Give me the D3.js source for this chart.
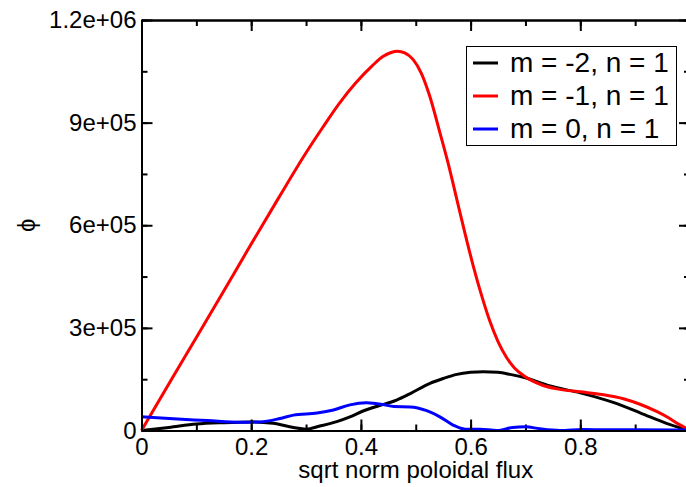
<!DOCTYPE html>
<html>
<head>
<meta charset="utf-8">
<script src="https://cdn.jsdelivr.net/npm/d3@7"></script>
<style>
  body { margin: 0; background: #fff; }
  svg { display: block; font-family: "Liberation Sans", Arial, sans-serif; }
</style>
</head>
<body>
<svg id="chart" width="686" height="487"></svg>
<script>
// Chart values
const SERIES_NAMES = ["m = -2, n = 1", "m = -1, n = 1", "m = 0, n = 1"];
const SERIES_COLORS = ["#000000", "#ff0000", "#0000ff"];

// m = -2 (black)
const BLACK_X = [0, 0.05, 0.1, 0.15, 0.2, 0.24, 0.277, 0.3, 0.325, 0.356, 0.38, 0.404, 0.43, 0.465, 0.49, 0.526, 0.55, 0.575, 0.6, 0.623, 0.65, 0.672, 0.7, 0.745, 0.8, 0.86, 0.91, 0.957, 1.0];
const BLACK_Y = [0, 9000, 19000, 23000, 25000, 21000, 9000, 4000, 13000, 26000, 40000, 57000, 71000, 89000, 108000, 138000, 152000, 164000, 170000, 172000, 170000, 164000, 154000, 130000, 110000, 82000, 51000, 21000, 0];

// m = -1 (red)
const RED_X = [0, 0.05, 0.1, 0.15, 0.2, 0.25, 0.3, 0.33, 0.36, 0.39, 0.42, 0.44, 0.455, 0.467, 0.48, 0.495, 0.51, 0.525, 0.545, 0.56, 0.575, 0.59, 0.605, 0.62, 0.635, 0.65, 0.665, 0.68, 0.697, 0.73, 0.76, 0.8, 0.84, 0.88, 0.91, 0.94, 0.96, 0.98, 1.0];
const RED_Y = [0, 137000, 272000, 408000, 545000, 680000, 812000, 885000, 955000, 1015000, 1065000, 1093000, 1105000, 1109000, 1104000, 1085000, 1045000, 980000, 865000, 775000, 675000, 575000, 480000, 395000, 320000, 260000, 215000, 183000, 160000, 133000, 121000, 113000, 105000, 92000, 76000, 55000, 38000, 18000, 0];

// m = 0 (blue)
const BLUE_X = [0, 0.058, 0.12, 0.18, 0.216, 0.2525, 0.277, 0.32, 0.35, 0.38, 0.41, 0.44, 0.46, 0.49, 0.52, 0.544, 0.568, 0.59, 0.617, 0.648, 0.677, 0.7, 0.726, 0.763, 0.805, 0.85, 0.9, 1.0];
const BLUE_Y = [40000, 34000, 29000, 24000, 25000, 35000, 45000, 51000, 60000, 75000, 81000, 76000, 70000, 69000, 58000, 40000, 16000, 4000, 4000, 0, 9000, 11000, 5000, 0, 3000, 2000, 2000, 1000];

const X_TICKS = [0, 0.2, 0.4, 0.6, 0.8, 1.0];
const X_TICK_LABELS = ["0", "0.2", "0.4", "0.6", "0.8", ""];
const Y_TICKS = [0, 300000, 600000, 900000, 1200000];
const Y_TICK_LABELS = ["0", "3e+05", "6e+05", "9e+05", "1.2e+06"];

const X_LABEL = "sqrt norm poloidal flux";
const Y_LABEL = "\u03d5";

// frame
const WIDTH = 686;
const HEIGHT = 487;
const PLOT = { left: 141.5, right: 690, top: 20, bottom: 430.5 };

const svg = d3.select("#chart");

const xScale = d3.scaleLinear().domain([0, 1]).range([PLOT.left, PLOT.right]);
const yScale = d3.scaleLinear().domain([0, 1200000]).range([PLOT.bottom, PLOT.top]);

const minorX = d3.range(0, 1.0001, 0.1).map(d => +d.toFixed(2));
const minorY = d3.range(0, 1200001, 150000);

function styleAxis (g) {
  g.selectAll("path.domain").attr("stroke", "#000").attr("stroke-width", 2);
  g.selectAll(".tick line").attr("stroke", "#000").attr("stroke-width", 2);
}

// minor ticks on all four sides
svg.append("g")
  .attr("transform", `translate(0,${PLOT.bottom})`)
  .call(d3.axisBottom(xScale).tickValues(minorX).tickSize(-6).tickSizeOuter(0).tickFormat(""))
  .call(styleAxis);
svg.append("g")
  .attr("transform", `translate(0,${PLOT.top})`)
  .call(d3.axisTop(xScale).tickValues(minorX).tickSize(-6).tickSizeOuter(0).tickFormat(""))
  .call(styleAxis);
svg.append("g")
  .attr("transform", `translate(${PLOT.left},0)`)
  .call(d3.axisLeft(yScale).tickValues(minorY).tickSize(-6).tickSizeOuter(0).tickFormat(""))
  .call(styleAxis);
svg.append("g")
  .attr("transform", `translate(${PLOT.right},0)`)
  .call(d3.axisRight(yScale).tickValues(minorY).tickSize(-6).tickSizeOuter(0).tickFormat(""))
  .call(styleAxis);

// major ticks
svg.append("g")
  .attr("transform", `translate(0,${PLOT.top})`)
  .call(d3.axisTop(xScale).tickValues(X_TICKS).tickSize(-11).tickSizeOuter(0).tickFormat(""))
  .call(styleAxis);
svg.append("g")
  .attr("transform", `translate(${PLOT.right},0)`)
  .call(d3.axisRight(yScale).tickValues(Y_TICKS).tickSize(-11).tickSizeOuter(0).tickFormat(""))
  .call(styleAxis);

// lines
const series = [
  { x: BLACK_X, y: BLACK_Y },
  { x: RED_X, y: RED_Y },
  { x: BLUE_X, y: BLUE_Y }
];

const lineGenerator = d3.line()
  .x(d => xScale(d[0]))
  .y(d => yScale(d[1]))
  .curve(d3.curveMonotoneX);

svg.append("g").selectAll("path")
  .data(series)
  .join("path")
  .attr("d", s => lineGenerator(s.x.map((v, i) => [v, s.y[i]])))
  .attr("fill", "none")
  .attr("stroke", (s, i) => SERIES_COLORS[i])
  .attr("stroke-width", 3)
  .attr("stroke-linejoin", "round");

// bottom and left axes with labels (on top of the lines)
const xAxis = svg.append("g")
  .attr("transform", `translate(0,${PLOT.bottom})`)
  .call(d3.axisBottom(xScale).tickValues(X_TICKS).tickSize(-11).tickSizeOuter(0).tickPadding(7)
    .tickFormat((d, i) => X_TICK_LABELS[i]))
  .call(styleAxis);
xAxis.selectAll("text").attr("font-size", 24).attr("fill", "#000").attr("font-family", null);

const yAxis = svg.append("g")
  .attr("transform", `translate(${PLOT.left},0)`)
  .call(d3.axisLeft(yScale).tickValues(Y_TICKS).tickSize(-11).tickSizeOuter(0).tickPadding(5)
    .tickFormat((d, i) => Y_TICK_LABELS[i]))
  .call(styleAxis);
yAxis.selectAll("text").attr("font-size", 24).attr("fill", "#000").attr("font-family", null);

// axis titles
svg.append("text")
  .attr("x", (PLOT.left + PLOT.right) / 2)
  .attr("y", 478)
  .attr("text-anchor", "middle")
  .attr("font-size", 24)
  .text(X_LABEL);

svg.append("text")
  .attr("transform", `translate(35,${(PLOT.top + PLOT.bottom) / 2}) rotate(-90)`)
  .attr("text-anchor", "middle")
  .attr("font-size", 24)
  .text(Y_LABEL);

// legend
const legend = svg.append("g");
legend.append("rect")
  .attr("x", 466.5).attr("y", 46.5)
  .attr("width", 210).attr("height", 99)
  .attr("fill", "#fff").attr("stroke", "#000").attr("stroke-width", 1);

const rows = legend.selectAll("g.row")
  .data(SERIES_NAMES)
  .join("g")
  .attr("class", "row")
  .attr("transform", (d, i) => `translate(0,${63 + i * 33})`);

rows.append("line")
  .attr("x1", 473).attr("x2", 498)
  .attr("stroke", (d, i) => SERIES_COLORS[i])
  .attr("stroke-width", 3);

rows.append("text")
  .attr("x", 510).attr("y", 9)
  .attr("font-size", 28)
  .text(d => d);
</script>
</body>
</html>
